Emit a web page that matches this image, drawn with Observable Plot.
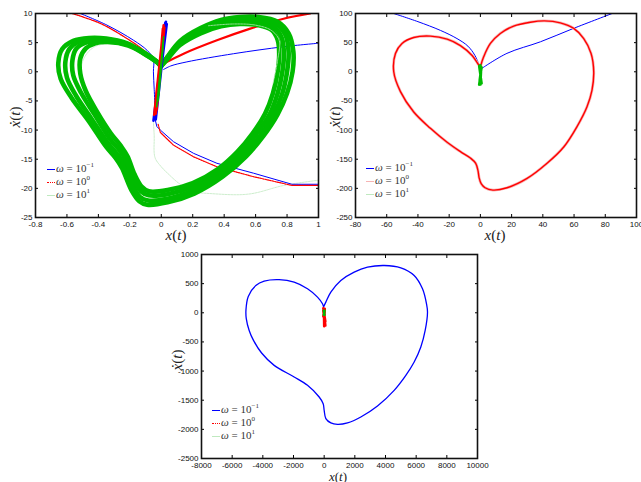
<!DOCTYPE html>
<html><head><meta charset="utf-8">
<script src="https://cdn.jsdelivr.net/npm/d3@7"></script>
<script src="https://cdn.jsdelivr.net/npm/@observablehq/plot@0.6"></script>
<style>
body{margin:0;background:#fff;}
#wrap{position:relative;width:641px;height:482px;background:#fff;overflow:hidden;}
.pl{position:absolute;}
.lab{position:absolute;font-family:"Liberation Serif","DejaVu Serif",serif;font-size:15px;color:#222;white-space:nowrap;line-height:1;}
.leg{position:absolute;font-family:"Liberation Serif","DejaVu Serif",serif;font-size:11px;color:#333;white-space:nowrap;line-height:1;}
.leg .s{display:inline-block;width:8px;height:0;vertical-align:middle;margin-right:1px;}
.leg sup{font-size:7px;vertical-align:5px;}
</style></head>
<body><div id="wrap"></div>
<script>
// ---------- tick values ----------
const ticks1X = [-0.8,-0.6,-0.4,-0.2,0,0.2,0.4,0.6,0.8,1];
const ticks1Y = [-25,-20,-15,-10,-5,0,5,10];
const ticks2X = [-80,-60,-40,-20,0,20,40,60,80,100];
const ticks2Y = [-250,-200,-150,-100,-50,0,50,100];
const ticks3X = [-8000,-6000,-4000,-2000,0,2000,4000,6000,8000,10000];
const ticks3Y = [-2500,-2000,-1500,-1000,-500,0,500,1000];
const legendExp = [-1, 0, 1];

// ---------- panel 1 (x in [-0.8,1], y in [-25,10]) ----------
const green1A = [[0,1.0],[0.04,2.6],[0.12,5.3],[0.25,7.5],[0.38,8.9],[0.5,9.4],[0.62,9.4],[0.74,8.6],[0.81,6.6],[0.84,3.5],[0.835,0],[0.80,-3.7],[0.74,-7.3],[0.65,-11],[0.54,-14.5],[0.39,-18],[0.21,-20.9],[0.04,-22.4],[-0.09,-22.8],[-0.14,-22.2],[-0.19,-20.3],[-0.25,-16.5],[-0.29,-14.8],[-0.35,-12.9],[-0.46,-8.5],[-0.57,-4.5],[-0.64,-1.2],[-0.655,1.5],[-0.63,3.9],[-0.56,5.3],[-0.46,5.8],[-0.35,5.7],[-0.22,4.9],[-0.11,3.3],[-0.03,1.8],[0,1.0]];
const green1B = [[0,1.0],[0.04,2.5],[0.12,5.1],[0.25,7.2],[0.38,8.5],[0.5,9.0],[0.62,9.0],[0.73,8.2],[0.79,6.3],[0.81,3.3],[0.80,0],[0.77,-3.7],[0.715,-7.3],[0.63,-10.9],[0.525,-14.3],[0.38,-17.6],[0.205,-20.3],[0.04,-21.8],[-0.085,-22.1],[-0.135,-21.5],[-0.18,-19.6],[-0.235,-16.0],[-0.275,-14.3],[-0.34,-12.2],[-0.445,-8.0],[-0.54,-4.2],[-0.60,-1.0],[-0.61,1.7],[-0.585,3.9],[-0.52,5.2],[-0.44,5.6],[-0.35,5.55],[-0.22,4.8],[-0.11,3.25],[-0.03,1.78],[0,1.0]];
const green1C = [[0,1.0],[0.04,2.35],[0.12,4.85],[0.25,6.9],[0.38,8.1],[0.5,8.6],[0.62,8.5],[0.715,7.7],[0.765,5.9],[0.78,3.1],[0.77,0],[0.74,-3.7],[0.69,-7.25],[0.605,-10.7],[0.505,-14.0],[0.37,-17.1],[0.2,-19.7],[0.04,-21.0],[-0.08,-21.2],[-0.13,-20.5],[-0.175,-18.5],[-0.225,-15.2],[-0.265,-13.5],[-0.33,-11.4],[-0.425,-7.3],[-0.51,-3.6],[-0.56,-0.6],[-0.565,2.0],[-0.54,4.0],[-0.475,5.05],[-0.40,5.35],[-0.34,5.3],[-0.215,4.65],[-0.11,3.15],[-0.03,1.72],[0,1.0]];
const green1D = [[0,1.0],[0.04,2.2],[0.12,4.6],[0.25,6.6],[0.38,7.8],[0.5,8.2],[0.62,8.0],[0.70,7.2],[0.74,5.5],[0.75,3],[0.74,0],[0.71,-3.7],[0.66,-7.2],[0.58,-10.6],[0.485,-13.7],[0.36,-16.7],[0.2,-19.1],[0.04,-20.3],[-0.08,-20.5],[-0.125,-19.7],[-0.17,-17.6],[-0.215,-14.5],[-0.255,-12.8],[-0.32,-10.6],[-0.41,-6.8],[-0.48,-3.3],[-0.515,-0.3],[-0.515,2.3],[-0.48,4.0],[-0.42,4.9],[-0.34,5.1],[-0.21,4.5],[-0.11,3.1],[-0.03,1.7],[0,1.0]];
const pale1A = [[0,1],[-0.1,3.0],[-0.2,4.2],[-0.33,4.8],[-0.43,4.2],[-0.5,1.8],[-0.5,-2.6],[-0.42,-6.6],[-0.32,-10.2],[-0.26,-13.5],[-0.2,-17],[-0.14,-20],[-0.1,-20.4],[0.05,-20.5],[0.25,-20.8],[0.55,-21],[0.78,-19.5],[1,-18.6]];
const pale1B = [[-0.05,-8.5],[-0.045,-11],[-0.04,-14.7],[0,-16.3],[0.04,-17.4],[0.11,-19.1],[0.18,-20.3]];
const pale1C = [[0.3,7.9],[0.46,8.2],[0.6,8.0],[0.7,7.1],[0.75,5.4],[0.74,2],[0.71,-2]];
const blue1UL = [[-0.515,10],[-0.345,8],[-0.176,5.4],[-0.091,3.7],[-0.05,2.2],[-0.05,0],[-0.045,-3],[-0.04,-6]];
const red1UL = [[-0.568,10],[-0.388,8.3],[-0.218,5.7],[-0.112,3.7],[-0.049,2.0],[-0.017,0.9]];
const blue1R = [[0.015,0.4],[0.06,1.0],[0.163,1.7],[0.46,3.1],[0.778,4.3],[1,4.9]];
const red1R = [[0.015,1.4],[0.142,3.1],[0.354,5.4],[0.566,7.4],[0.778,9.1],[0.947,10]];
const blue1Low = [[-0.038,-8.3],[-0.028,-9.4],[-0.006,-10.0],[0.078,-12.0],[0.206,-14.0],[0.354,-15.7],[0.587,-17.4],[0.831,-19.3],[1,-19.3]];
const red1Low = [[-0.02,-9.0],[-0.006,-10.4],[0.078,-12.6],[0.206,-14.6],[0.354,-16.3],[0.587,-18.0],[0.831,-19.5],[1,-19.5]];
const blue1Spike = [[-0.05,-8.4],[0.03,8.6],[-0.04,-8.0],[0.035,8.2],[-0.045,-7.6],[0.025,8.4],[-0.035,-8.2],[0.03,7.8]];
const red1Spike = [[-0.045,-7.4],[0.015,8.0],[-0.04,-7.0],[0.02,7.6],[-0.035,-7.2],[0.01,7.4],[-0.03,-6.6],[0.015,7.0]];
const green1Spike = [[-0.03,-6],[0.015,6],[-0.02,-5],[0.01,5],[-0.015,-4],[0.012,4.5]];

// ---------- panel 2 (x in [-80,100], y in [-250,100]) ----------
const red2Heart = [[0,8.6],[2.1,25.7],[6.4,48.6],[12.8,65.8],[21.3,78.4],[32,85],[41,87.3],[51.2,84],[59.8,74.4],[66.2,57],[70.9,31.5],[72.6,0],[71.5,-31.5],[68.3,-60],[61.9,-94],[53.4,-129],[42.7,-157],[29.9,-183],[17.1,-199],[8,-203],[3,-199],[0.5,-192],[-0.8,-182],[-1.5,-170],[-3,-157],[-6.4,-148],[-12.8,-137],[-21.3,-121],[-32,-97],[-42.7,-69],[-51.2,-34],[-55.5,0],[-54.4,31.5],[-50.2,48.6],[-42.7,58.8],[-32,61.2],[-21.3,56],[-12.8,45],[-5.3,28],[-1.1,12],[0,8.6]];
const blue2L = [[-55.5,100],[-40,86],[-25.6,71],[-15,57],[-8,44],[-3.5,28],[0,6]];
const blue2R = [[1,6],[17,31.6],[38.5,51.5],[59.7,74.5],[84.4,100]];
const green2Bar = [[-0.8,10],[0.8,-20],[-0.8,-22],[0.8,8],[-0.5,-15],[0.5,5],[0,-22],[0,11]];

// ---------- panel 3 (x in [-8000,10000], y in [-2500,1000]) ----------
const blue3Heart = [[-40,100],[109,183],[435,354],[1087,554],[1957,697],[2826,782],[3913,811],[5000,771],[5870,640],[6413,411],[6674,154],[6739,11],[6587,-303],[6304,-588],[5870,-845],[5326,-1074],[4565,-1331],[3478,-1599],[2391,-1788],[1522,-1890],[870,-1915],[435,-1890],[109,-1816],[0,-1673],[-65,-1560],[-326,-1445],[-1087,-1245],[-1957,-1102],[-3261,-902],[-4080,-690],[-4609,-474],[-4891,-303],[-5080,-100],[-5100,50],[-4950,280],[-4457,468],[-3913,543],[-2935,568],[-1957,525],[-1087,411],[-435,268],[-109,154],[-40,100]];
const red3Bar = [[-60,80],[80,-150],[-60,40],[80,-220],[-40,60],[60,-120],[-60,-60],[40,70],[0,-230],[-20,60]];
const green3Sq = [[-40,40],[40,-40],[-40,-40],[40,40],[0,-40],[0,40]];

const BLUE = "#0000ff", RED = "#ff0000", GREEN = "#00bb00", PALEG = "#bfe9bf", PALER = "#f6b4b4";

function frameMarks(xt, yt) {
  const f = d => String(d);
  return [
    Plot.axisX(xt, {anchor: "bottom", tickSize: 0, tickPadding: 4, tickFormat: f, label: null, fill: "#111"}),
    Plot.axisY(yt, {anchor: "left", tickSize: 0, tickPadding: 3, tickFormat: f, label: null, fill: "#111"}),
    Plot.axisX(xt, {anchor: "bottom", tickSize: 3, dy: -3, fill: "none", label: null}),
    Plot.axisX(xt, {anchor: "top", tickSize: 3, dy: 3, fill: "none", label: null}),
    Plot.axisY(yt, {anchor: "left", tickSize: 3, dx: 3, fill: "none", label: null}),
    Plot.axisY(yt, {anchor: "right", tickSize: 3, dx: -3, fill: "none", label: null}),
    Plot.frame({stroke: "#111", strokeWidth: 1.6})
  ];
}
const L = (data, o) => Plot.line(data, {curve: "catmull-rom", clip: true, ...o});
const Z = (data, o) => Plot.line(data, {curve: "linear", clip: true, ...o});
const style = {fontFamily: "Liberation Sans, Arial, sans-serif", fontSize: "8px", background: "transparent", overflow: "visible"};

const wrap = document.getElementById("wrap");
function place(el, left, top) { const d = document.createElement("div"); d.className = "pl"; d.style.left = left + "px"; d.style.top = top + "px"; d.appendChild(el); wrap.appendChild(d); }

const p1 = Plot.plot({
  width: 320, height: 240, marginLeft: 35, marginRight: 2, marginTop: 13, marginBottom: 23, style,
  x: {domain: [-0.8, 1]}, y: {domain: [-25, 10]},
  marks: [
    L(pale1A, {stroke: PALEG, strokeWidth: 0.8, strokeDasharray: "2,1"}),
    L(pale1B, {stroke: PALEG, strokeWidth: 0.8, strokeDasharray: "2,1"}),
    L(blue1UL, {stroke: BLUE, strokeWidth: 1}),
    L(red1UL, {stroke: RED, strokeWidth: 1.3, strokeDasharray: "1.5,1"}),
    L(blue1Low, {stroke: BLUE, strokeWidth: 1, curve: "linear"}),
    L(red1Low, {stroke: RED, strokeWidth: 1.2, strokeDasharray: "1.5,1", curve: "linear"}),
    L(blue1R, {stroke: BLUE, strokeWidth: 1}),
    L(red1R, {stroke: RED, strokeWidth: 2.2}),
    L(green1A, {stroke: GREEN, strokeWidth: 4.6}),
    L(green1B, {stroke: GREEN, strokeWidth: 4.6}),
    L(green1C, {stroke: GREEN, strokeWidth: 4.6}),
    L(green1D, {stroke: GREEN, strokeWidth: 4.6}),
    L(pale1C, {stroke: PALEG, strokeWidth: 0.8, strokeDasharray: "2,1"}),
    Z(blue1Spike, {stroke: BLUE, strokeWidth: 2.5}),
    Z(red1Spike, {stroke: RED, strokeWidth: 2.5}),
    Z(green1Spike, {stroke: GREEN, strokeWidth: 1.5}),
    ...frameMarks(ticks1X, ticks1Y)
  ]
});
place(p1, 0, 0);

const p2 = Plot.plot({
  width: 321, height: 240, marginLeft: 35, marginRight: 5, marginTop: 13, marginBottom: 23, style,
  x: {domain: [-80, 100]}, y: {domain: [-250, 100]},
  marks: [
    L(blue2L, {stroke: BLUE, strokeWidth: 1}),
    L(blue2R, {stroke: BLUE, strokeWidth: 1}),
    L(red2Heart, {stroke: PALER, strokeWidth: 2.8}),
    L(red2Heart, {stroke: RED, strokeWidth: 1.4}),
    Z(green2Bar, {stroke: GREEN, strokeWidth: 2.5}),
    ...frameMarks(ticks2X, ticks2Y)
  ]
});
place(p2, 320, 0);

const p3 = Plot.plot({
  width: 330, height: 242, marginLeft: 41, marginRight: 13, marginTop: 14, marginBottom: 24, style,
  x: {domain: [-8000, 10000]}, y: {domain: [-2500, 1000]},
  marks: [
    L(blue3Heart, {stroke: BLUE, strokeWidth: 1.3}),
    Z(red3Bar, {stroke: RED, strokeWidth: 2.5}),
    Z(green3Sq, {stroke: GREEN, strokeWidth: 2}),
    ...frameMarks(ticks3X, ticks3Y)
  ]
});
place(p3, 160, 240);

// ---------- axis labels ----------
function label(html, cx, cy, rotate, size) {
  const d = document.createElement("div");
  d.className = "lab"; d.innerHTML = html;
  d.style.left = cx + "px"; d.style.top = cy + "px";
  if (size) d.style.fontSize = size + "px";
  d.style.transform = "translate(-50%,-50%)" + (rotate ? " rotate(-90deg)" : "");
  wrap.appendChild(d);
}
const XL = '<i>x</i>(<i>t</i>)', YL = '<i>ẋ</i>(<i>t</i>)';
label(XL, 176, 235); label(YL, 15, 117, true);
label(XL, 495, 235); label(YL, 335, 117, true);
label(XL, 338, 475.5, false, 13); label(YL, 177, 360, true);

// ---------- legends ----------
function legend(left, tops, samples) {
  tops.forEach((t, i) => {
    const d = document.createElement("div");
    d.className = "leg";
    d.style.left = left + "px"; d.style.top = (t - 6) + "px";
    d.innerHTML = `<span class="s" style="border-top:${samples[i]}"></span><i>ω</i> = 10<sup>${legendExp[i] < 0 ? "−" + (-legendExp[i]) : legendExp[i]}</sup>`;
    wrap.appendChild(d);
  });
}
legend(47, [168, 181, 194], [`1.5px solid ${BLUE}`, `1.5px dotted ${RED}`, `1px solid ${PALEG}`]);
legend(366, [167, 180, 193], [`1.5px solid ${BLUE}`, `1.5px solid ${PALER}`, `1px solid ${PALEG}`]);
legend(212, [409, 422, 435], [`1.5px solid ${BLUE}`, `1.5px dotted ${RED}`, `1px solid ${PALEG}`]);
</script></body></html>
